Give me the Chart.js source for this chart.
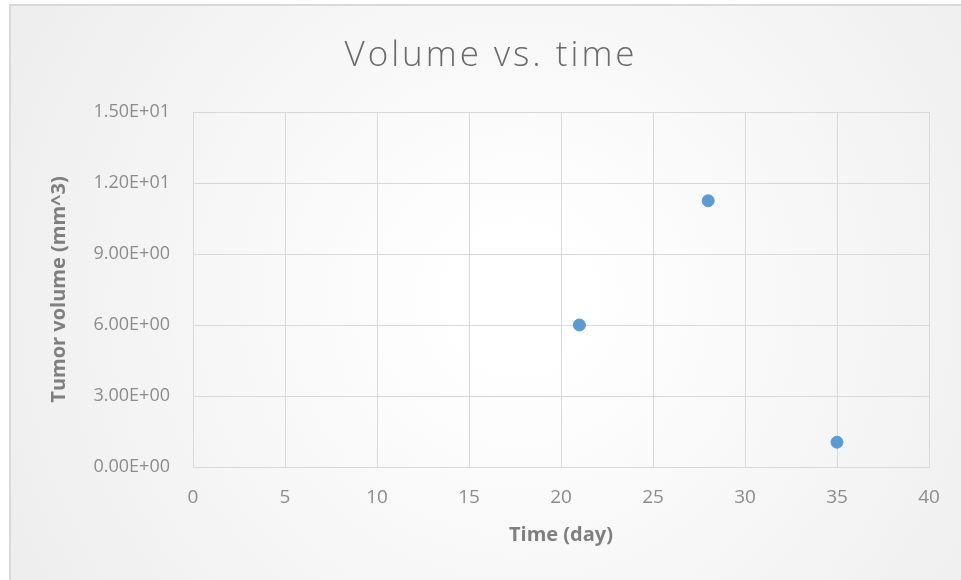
<!DOCTYPE html>
<html>
<head>
<meta charset="utf-8">
<script src="https://cdn.jsdelivr.net/npm/chart.js@4/dist/chart.umd.min.js"></script>
<style>
  html, body { margin: 0; padding: 0; background: #ffffff; }
  #wrap { width: 961px; height: 580px; position: relative; }
</style>
</head>
<body>
<div id="wrap"><canvas id="myChart" width="961" height="580"></canvas></div>
<script>
const chartTitle = 'Volume vs. time';
const days = [21, 28, 35];
const volumes = [6.0, 11.25, 1.05];
const xTickValues = [0, 5, 10, 15, 20, 25, 30, 35, 40];
const yTickValues = [0, 3, 6, 9, 12, 15];
const yTickLabels = ['0.00E+00', '3.00E+00', '6.00E+00', '9.00E+00', '1.20E+01', '1.50E+01'];

const points = days.map(function (d, i) {
    return { x: d, y: volumes[i] };
});

// background, frame and the (letter-spaced) chart title
const frame = {
    id: 'frame',
    beforeDraw: function (chart) {
        const c = chart.ctx;
        c.save();
        const g = c.createRadialGradient(520, 300, 60, 520, 300, 620);
        g.addColorStop(0, '#ffffff');
        g.addColorStop(1, '#ececec');
        c.fillStyle = g;
        c.fillRect(10, 5, 951, 575);
        c.strokeStyle = '#d9d9d9';
        c.lineWidth = 2;
        c.beginPath();
        c.moveTo(10, 580);
        c.lineTo(10, 5);
        c.lineTo(961, 5);
        c.stroke();
        c.restore();
    },
    afterDraw: function (chart) {
        const c = chart.ctx;
        c.save();
        c.font = '300 35px "Open Sans"';
        c.letterSpacing = '3px';
        c.fillStyle = '#6a6a6a';
        c.textAlign = 'center';
        c.textBaseline = 'alphabetic';
        c.fillText(chartTitle, 491, 66);
        c.restore();
    }
};

const ctx = document.getElementById('myChart').getContext('2d');
const myChart = new Chart(ctx, {
    type: 'scatter',
    data: {
        datasets: [{
            label: 'Tumor volume',
            data: points,
            backgroundColor: '#5b9bd5',
            borderColor: '#5b9bd5',
            borderWidth: 1,
            pointRadius: 6
        }]
    },
    options: {
        responsive: false,
        animation: false,
        layout: {
            padding: { left: 0, right: 32, top: 112, bottom: 0 }
        },
        plugins: {
            legend: { display: false },
            tooltip: { enabled: false },
            title: { display: false }
        },
        scales: {
            x: {
                type: 'linear',
                min: 0,
                max: 40,
                afterBuildTicks: function (scale) {
                    scale.ticks = xTickValues.map(function (v) { return { value: v }; });
                },
                afterFit: function (scale) { scale.height = 113; },
                grid: { color: '#d9d9d9', drawTicks: false, tickLength: 0 },
                border: { color: '#d9d9d9' },
                ticks: {
                    color: '#8c8c8c',
                    padding: 19,
                    maxRotation: 0,
                    font: { family: 'Open Sans', size: 19 }
                },
                title: {
                    display: true,
                    text: 'Time (day)',
                    color: '#7f7f7f',
                    font: { family: 'Open Sans', size: 20, weight: 'bold' },
                    padding: { top: 0, bottom: 33 }
                }
            },
            y: {
                type: 'linear',
                min: 0,
                max: 15,
                afterBuildTicks: function (scale) {
                    scale.ticks = yTickValues.map(function (v) { return { value: v }; });
                },
                afterFit: function (scale) { scale.width = 193; },
                grid: { color: '#d9d9d9', drawTicks: false, tickLength: 0 },
                border: { color: '#d9d9d9' },
                ticks: {
                    color: '#8c8c8c',
                    padding: 23,
                    font: { family: 'Open Sans', size: 18 },
                    callback: function (value) {
                        return yTickLabels[yTickValues.indexOf(value)];
                    }
                },
                title: {
                    display: true,
                    text: 'Tumor volume (mm^3)',
                    color: '#7f7f7f',
                    font: { family: 'Open Sans', size: 20, weight: 'bold' },
                    padding: { top: 47, bottom: 0 }
                }
            }
        }
    },
    plugins: [frame]
});
</script>
</body>
</html>
